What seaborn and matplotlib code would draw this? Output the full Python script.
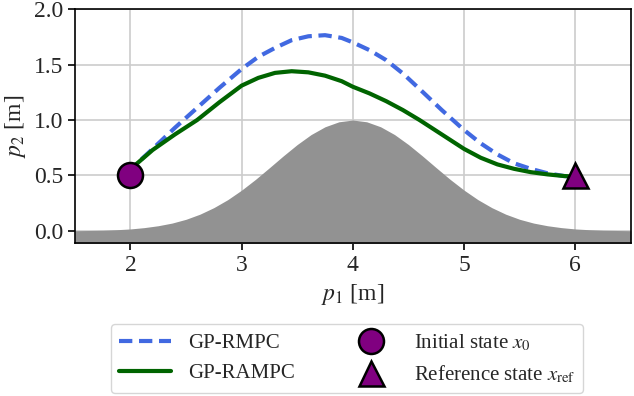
import matplotlib.pyplot as plt
import seaborn as sns
import pandas as pd

# obstacle profile
obs_x = [1.5, 1.625, 1.75, 1.875, 2.0, 2.125, 2.25, 2.375, 2.5, 2.625, 2.75, 2.875,
         3.0, 3.125, 3.25, 3.375, 3.5, 3.625, 3.75, 3.875, 4.0, 4.125, 4.25, 4.375,
         4.5, 4.625, 4.75, 4.875, 5.0, 5.125, 5.25, 5.375, 5.5, 5.625, 5.75, 5.875,
         6.0, 6.125, 6.25, 6.375, 6.5]
obs_y = [0.002, 0.004, 0.006, 0.011, 0.018, 0.030, 0.047, 0.071, 0.105, 0.151, 0.210, 0.282,
         0.368, 0.465, 0.570, 0.677, 0.779, 0.869, 0.939, 0.984, 1.000, 0.984, 0.939, 0.869,
         0.779, 0.677, 0.570, 0.465, 0.368, 0.282, 0.210, 0.151, 0.105, 0.071, 0.047, 0.030,
         0.018, 0.011, 0.006, 0.004, 0.002]

rmpc_x = [2.0, 2.05, 2.2, 2.4, 2.6, 2.8, 3.0, 3.15, 3.3, 3.45, 3.6, 3.75, 3.9, 4.0, 4.15,
          4.3, 4.45, 4.6, 4.8, 5.0, 5.15, 5.3, 5.45, 5.6, 5.75, 5.9, 6.0]
rmpc_y = [0.5, 0.6, 0.74, 0.93, 1.11, 1.29, 1.46, 1.57, 1.65, 1.72, 1.755, 1.765, 1.74, 1.70, 1.63,
          1.54, 1.42, 1.28, 1.09, 0.91, 0.79, 0.69, 0.61, 0.56, 0.52, 0.495, 0.49]

rampc_x = [2.0, 2.05, 2.2, 2.4, 2.6, 2.8, 3.0, 3.15, 3.3, 3.45, 3.6, 3.75, 3.9, 4.0, 4.15,
           4.3, 4.45, 4.6, 4.8, 5.0, 5.15, 5.3, 5.45, 5.6, 5.75, 5.9, 6.0]
rampc_y = [0.5, 0.6, 0.73, 0.87, 1.0, 1.16, 1.31, 1.38, 1.425, 1.44, 1.43, 1.40, 1.35, 1.30, 1.24,
           1.17, 1.09, 1.00, 0.87, 0.74, 0.66, 0.60, 0.56, 0.53, 0.51, 0.495, 0.49]

x0 = (2.0, 0.5)
xref = (6.0, 0.5)

sns.set_style('ticks')
plt.rcParams['font.family'] = ['Liberation Serif', 'DejaVu Serif']
plt.rcParams['mathtext.fontset'] = 'stix'
plt.rcParams['font.size'] = 17

fig, ax = plt.subplots(figsize=(6.34, 3.96), dpi=100)
fig.subplots_adjust(left=0.118, right=0.995, top=0.977, bottom=0.386)

ax.grid(True, color='#cccccc', lw=1.2, zorder=0)
ax.set_axisbelow(True)

ax.fill_between(obs_x, -0.2, obs_y, color='#929292', lw=0, zorder=2)

rmpc = pd.DataFrame({'x': rmpc_x, 'y': rmpc_y})
rampc = pd.DataFrame({'x': rampc_x, 'y': rampc_y})
sns.lineplot(data=rmpc, x='x', y='y', sort=False, color='royalblue', lw=3,
             ax=ax, label='GP-RMPC', zorder=3)
ax.lines[-1].set_linestyle((0, (3.2, 1.6)))
sns.lineplot(data=rampc, x='x', y='y', sort=False, color='darkgreen', lw=3,
             ax=ax, label='GP-RAMPC', zorder=4)

ax.plot(*x0, 'o', ms=18, mfc='purple', mec='black', mew=1.8, ls='none',
        label='Initial state $x_0$', zorder=5)
ax.plot(*xref, '^', ms=18, mfc='purple', mec='black', mew=1.8, ls='none',
        label='Reference state $x_{\\mathrm{ref}}$', zorder=5)

ax.set_xlim(1.5, 6.5)
ax.set_ylim(-0.11, 2.0)
ax.set_xticks([2, 3, 4, 5, 6])
ax.set_yticks([0.0, 0.5, 1.0, 1.5, 2.0])
ax.set_xlabel('$p_1$ [m]', fontsize=17)
ax.set_ylabel('$p_2$ [m]', fontsize=17)
for s in ax.spines.values():
    s.set_color('black')
    s.set_linewidth(1.2)
ax.tick_params(length=5, width=1.2, color='black', labelsize=17)

ax.legend(loc='upper center', bbox_to_anchor=(0.49, -0.3), ncol=2,
          fontsize=15, handlelength=2.5, columnspacing=2.4, frameon=True,
          edgecolor='#cccccc', fancybox=True)

fig.savefig('out.png', dpi=100)
